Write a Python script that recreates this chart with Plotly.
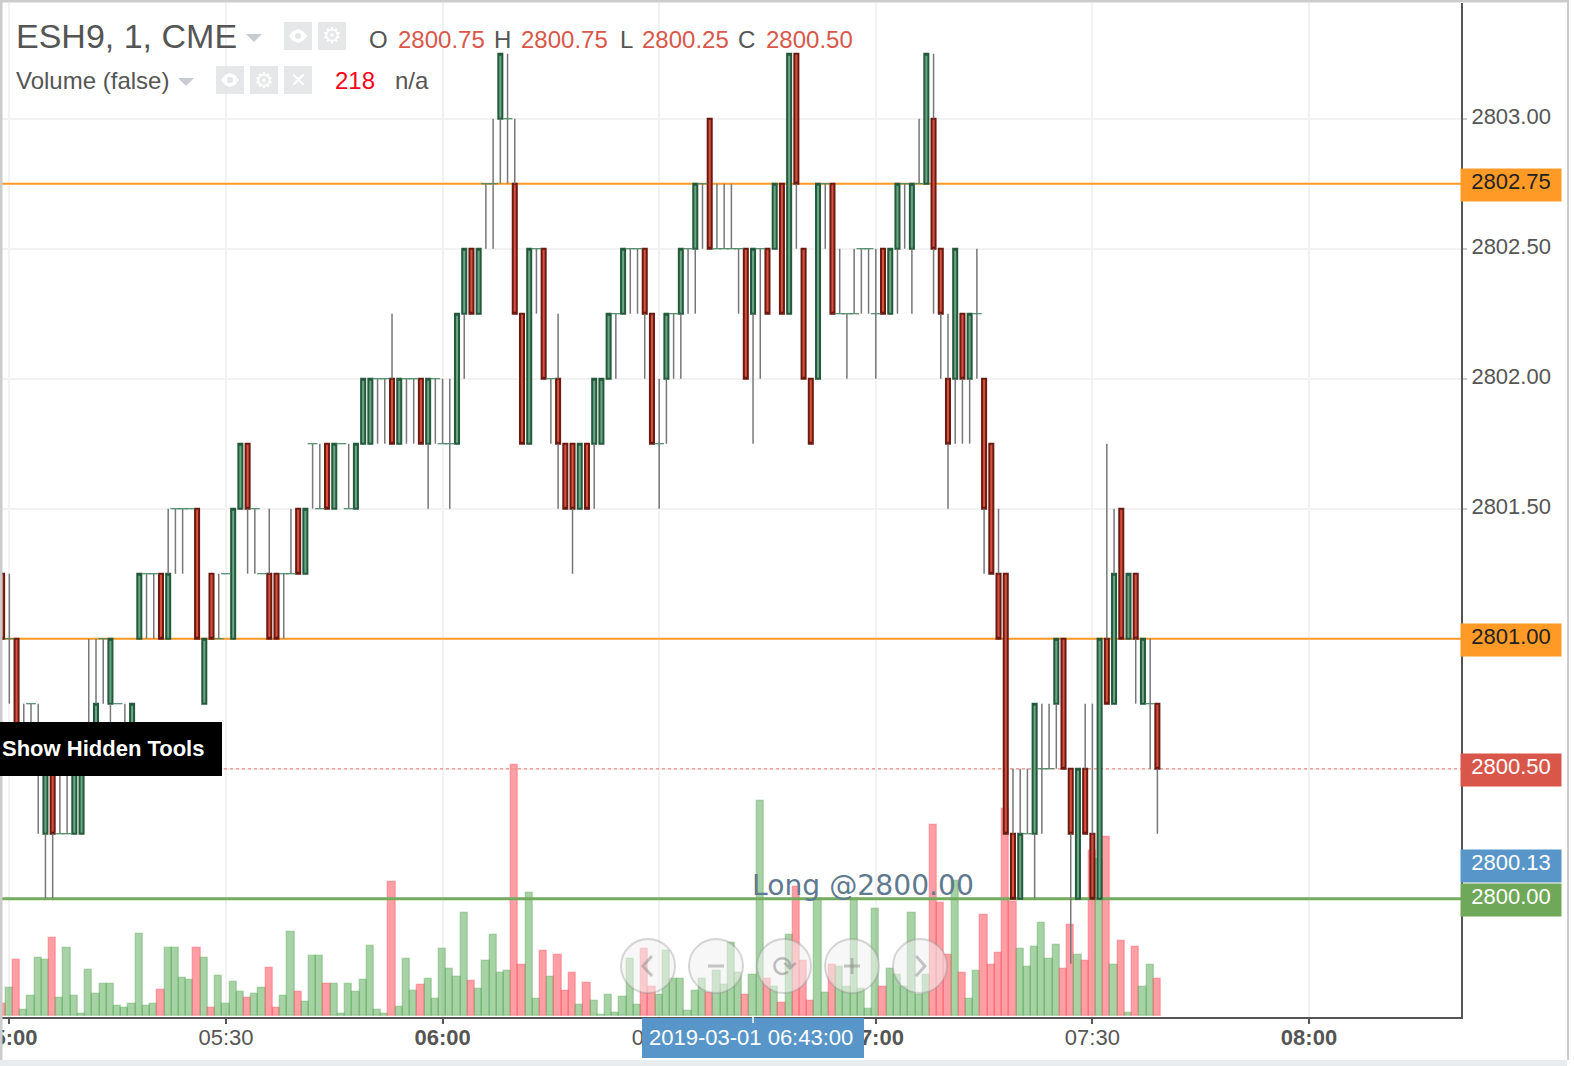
"""ESH9 one minute chart with volume underneath, drawn the way the trading terminal shows it."""

import pandas as pd
import plotly.graph_objects as go

WIDTH = 1574
HEIGHT = 1066

open_prices = [
    2801.25, 2801.00, 2801.00, 2800.50, 2800.75, 2800.50, 2800.25, 2800.50, 2800.25, 2800.25,
    2800.25, 2800.25, 2800.50, 2800.50, 2801.00, 2800.75, 2800.75, 2800.50, 2800.50, 2801.00,
    2801.25, 2801.25, 2801.25, 2801.00, 2801.50, 2801.50, 2801.50, 2801.50, 2800.75, 2801.25,
    2801.00, 2801.25, 2801.00, 2801.50, 2801.75, 2801.50, 2801.25, 2801.25, 2801.25, 2801.25,
    2801.25, 2801.50, 2801.25, 2801.75, 2801.50, 2801.75, 2801.50, 2801.75, 2801.50, 2801.50,
    2801.75, 2801.75, 2802.00, 2802.00, 2802.00, 2801.75, 2802.00, 2802.00, 2802.00, 2801.75,
    2802.00, 2801.75, 2801.75, 2801.75, 2802.25, 2802.50, 2802.25, 2802.75, 2802.75, 2803.00,
    2803.00, 2802.75, 2802.25, 2801.75, 2802.50, 2802.50, 2802.00, 2802.00, 2801.75, 2801.75,
    2801.50, 2801.75, 2801.75, 2801.75, 2802.00, 2802.25, 2802.25, 2802.50, 2802.50, 2802.50,
    2802.25, 2801.75, 2802.00, 2802.25, 2802.25, 2802.50, 2802.50, 2802.75, 2803.00, 2802.50,
    2802.50, 2802.50, 2802.50, 2802.50, 2802.25, 2802.50, 2802.50, 2802.50, 2802.75, 2802.25,
    2803.25, 2802.50, 2802.00, 2802.00, 2802.75, 2802.75, 2802.25, 2802.25, 2802.25, 2802.50,
    2802.50, 2802.25, 2802.50, 2802.25, 2802.50, 2802.75, 2802.50, 2802.75, 2802.75, 2803.00,
    2802.50, 2802.00, 2802.00, 2802.25, 2802.00, 2802.25, 2802.00, 2801.75, 2801.25, 2801.25,
    2800.25, 2800.00, 2800.25, 2800.25, 2800.50, 2800.50, 2800.75, 2801.00, 2800.50, 2800.00,
    2800.50, 2800.25, 2800.00, 2801.00, 2800.75, 2801.50, 2801.00, 2801.25, 2800.75, 2800.75, 2800.75,
]
high_prices = [
    2801.25, 2801.25, 2801.00, 2800.75, 2800.75, 2800.75, 2800.50, 2800.50, 2800.50, 2800.50,
    2800.50, 2800.50, 2801.00, 2801.00, 2801.00, 2801.00, 2800.75, 2800.75, 2800.75, 2801.25,
    2801.25, 2801.25, 2801.25, 2801.50, 2801.50, 2801.50, 2801.50, 2801.50, 2801.00, 2801.25,
    2801.25, 2801.25, 2801.50, 2801.75, 2801.75, 2801.50, 2801.25, 2801.50, 2801.25, 2801.25,
    2801.50, 2801.50, 2801.50, 2801.75, 2801.75, 2801.75, 2801.75, 2801.75, 2801.75, 2801.75,
    2802.00, 2802.00, 2802.00, 2802.00, 2802.25, 2802.00, 2802.00, 2802.00, 2802.00, 2802.00,
    2802.00, 2802.00, 2802.00, 2802.25, 2802.50, 2802.50, 2802.50, 2802.75, 2803.00, 2803.25,
    2803.25, 2803.00, 2802.25, 2802.50, 2802.50, 2802.50, 2802.00, 2802.25, 2801.75, 2801.75,
    2801.75, 2801.75, 2802.00, 2802.00, 2802.25, 2802.25, 2802.50, 2802.50, 2802.50, 2802.50,
    2802.25, 2802.00, 2802.25, 2802.25, 2802.50, 2802.50, 2802.75, 2802.75, 2803.00, 2802.75,
    2802.75, 2802.75, 2802.50, 2802.50, 2802.50, 2802.50, 2802.50, 2802.75, 2802.75, 2803.25,
    2803.25, 2802.50, 2802.00, 2802.75, 2802.75, 2802.75, 2802.50, 2802.25, 2802.50, 2802.50,
    2802.50, 2802.50, 2802.50, 2802.50, 2802.75, 2802.75, 2802.75, 2803.00, 2803.25, 2803.25,
    2802.50, 2802.25, 2802.50, 2802.25, 2802.25, 2802.50, 2802.00, 2801.75, 2801.50, 2801.25,
    2800.50, 2800.50, 2800.50, 2800.75, 2800.75, 2800.75, 2801.00, 2801.00, 2800.50, 2800.50,
    2800.75, 2800.75, 2801.00, 2801.75, 2801.50, 2801.50, 2801.25, 2801.25, 2801.00, 2801.00, 2800.75,
]
low_prices = [
    2801.00, 2800.75, 2800.50, 2800.50, 2800.50, 2800.25, 2800.00, 2800.00, 2800.25, 2800.25,
    2800.25, 2800.25, 2800.50, 2800.50, 2800.75, 2800.50, 2800.75, 2800.50, 2800.50, 2801.00,
    2801.00, 2801.00, 2801.00, 2801.00, 2801.25, 2801.25, 2801.50, 2801.00, 2800.75, 2801.00,
    2801.00, 2801.25, 2801.00, 2801.50, 2801.25, 2801.25, 2801.25, 2801.00, 2801.00, 2801.00,
    2801.25, 2801.25, 2801.25, 2801.50, 2801.50, 2801.50, 2801.50, 2801.75, 2801.50, 2801.50,
    2801.75, 2801.75, 2801.75, 2801.75, 2801.75, 2801.75, 2801.75, 2801.75, 2801.75, 2801.50,
    2801.75, 2801.75, 2801.50, 2801.75, 2802.00, 2802.25, 2802.25, 2802.50, 2802.50, 2802.75,
    2802.75, 2802.25, 2801.75, 2801.75, 2802.25, 2802.00, 2801.75, 2801.50, 2801.50, 2801.25,
    2801.50, 2801.50, 2801.50, 2801.75, 2802.00, 2802.00, 2802.25, 2802.25, 2802.25, 2802.00,
    2801.75, 2801.50, 2801.75, 2802.00, 2802.00, 2802.25, 2802.25, 2802.50, 2802.50, 2802.50,
    2802.50, 2802.50, 2802.25, 2802.00, 2801.75, 2802.00, 2802.25, 2802.50, 2802.25, 2802.25,
    2802.50, 2802.00, 2801.75, 2802.00, 2802.50, 2802.25, 2802.25, 2802.00, 2802.25, 2802.25,
    2802.25, 2802.00, 2802.25, 2802.25, 2802.25, 2802.50, 2802.25, 2802.75, 2802.75, 2802.25,
    2802.00, 2801.50, 2801.75, 2801.75, 2801.75, 2802.00, 2801.25, 2801.25, 2801.00, 2800.25,
    2800.00, 2800.00, 2800.25, 2800.00, 2800.25, 2800.50, 2800.50, 2800.50, 2799.75, 2800.00,
    2800.25, 2800.00, 2800.00, 2800.75, 2800.75, 2801.00, 2801.00, 2800.75, 2800.75, 2800.50, 2800.25,
]
close_prices = [
    2801.00, 2801.00, 2800.50, 2800.50, 2800.75, 2800.50, 2800.50, 2800.25, 2800.25, 2800.25,
    2800.50, 2800.50, 2800.50, 2800.75, 2801.00, 2801.00, 2800.75, 2800.50, 2800.75, 2801.25,
    2801.25, 2801.25, 2801.00, 2801.25, 2801.50, 2801.50, 2801.50, 2801.00, 2801.00, 2801.00,
    2801.00, 2801.25, 2801.50, 2801.75, 2801.50, 2801.50, 2801.25, 2801.00, 2801.00, 2801.25,
    2801.25, 2801.25, 2801.50, 2801.75, 2801.50, 2801.50, 2801.75, 2801.75, 2801.50, 2801.75,
    2802.00, 2802.00, 2802.00, 2802.00, 2801.75, 2802.00, 2802.00, 2802.00, 2801.75, 2802.00,
    2802.00, 2801.75, 2801.75, 2802.25, 2802.50, 2802.25, 2802.50, 2802.75, 2802.75, 2803.25,
    2803.00, 2802.25, 2801.75, 2802.50, 2802.50, 2802.00, 2802.00, 2801.75, 2801.50, 2801.50,
    2801.75, 2801.50, 2802.00, 2802.00, 2802.25, 2802.25, 2802.50, 2802.50, 2802.50, 2802.25,
    2801.75, 2801.75, 2802.25, 2802.25, 2802.50, 2802.50, 2802.75, 2802.75, 2802.50, 2802.50,
    2802.50, 2802.50, 2802.50, 2802.00, 2802.50, 2802.50, 2802.25, 2802.75, 2802.25, 2803.25,
    2802.75, 2802.00, 2801.75, 2802.75, 2802.75, 2802.25, 2802.25, 2802.25, 2802.25, 2802.50,
    2802.50, 2802.25, 2802.25, 2802.50, 2802.75, 2802.75, 2802.75, 2802.75, 2803.25, 2802.50,
    2802.25, 2801.75, 2802.50, 2802.00, 2802.25, 2802.25, 2801.50, 2801.25, 2801.00, 2800.25,
    2800.00, 2800.25, 2800.25, 2800.75, 2800.50, 2800.50, 2801.00, 2800.50, 2800.25, 2800.50,
    2800.25, 2800.00, 2801.00, 2800.75, 2801.25, 2801.00, 2801.25, 2801.00, 2801.00, 2800.75, 2800.50,
]
volumes = [
    68, 162, 325, 33, 115, 337, 325, 453, 103, 395,
    115, 10, 267, 126, 185, 185, 56, 45, 68, 477,
    56, 68, 150, 395, 395, 220, 208, 395, 337, 45,
    232, 68, 197, 138, 103, 126, 162, 278, 45, 115,
    488, 138, 80, 348, 348, 185, 185, 10, 185, 138,
    208, 407, 33, 10, 782, 54, 335, 148, 183, 218,
    101, 393, 276, 230, 603, 206, 160, 323, 475, 253,
    265, 1467, 300, 720, 101, 381, 230, 358, 148, 253,
    66, 195, 90, 8, 125, 19, 113, 335, 66, 393,
    171, 125, 381, 218, 218, 31, 148, 218, 136, 265,
    183, 428, 253, 125, 241, 1257, 218, 171, 78, 475,
    755, 323, 90, 685, 136, 300, 288, 171, 685, 160,
    43, 627, 171, 276, 241, 171, 603, 125, 241, 1117,
    662, 358, 790, 253, 101, 265, 592, 300, 370, 1212,
    667, 393, 288, 405, 545, 335, 416, 276, 533, 358,
    323, 963, 920, 1047, 300, 440, 19, 405, 171, 300, 218,
]

first_bar = "2019-03-01 04:59:00"
x_start = "2019-03-01 04:58:59"
x_end = "2019-03-01 08:21:03"
tick_times = ["2019-03-01 05:00", "2019-03-01 05:30", "2019-03-01 06:00", "2019-03-01 06:30",
              "2019-03-01 07:00", "2019-03-01 07:30", "2019-03-01 08:00"]
tick_labels = ["<b>05:00</b>", "05:30", "<b>06:00</b>", "06:30", "<b>07:00</b>", "07:30", "<b>08:00</b>"]
price_ticks = [2800.0, 2800.5, 2801.0, 2801.5, 2802.0, 2802.5, 2803.0]
# the three lowest sit under coloured price tags, so only their gridlines show
price_tick_labels = ["", "", "", "2801.50", "2802.00", "2802.50", "2803.00"]
price_range = [2799.545, 2803.445]

GREEN_EDGE = "#245a3c"
GREEN_BODY = "#6ba585"
RED_EDGE = "#6b1a12"
RED_BODY = "#d8513f"
WICK = "#777777"
TEXT = "#555555"
SANS = "Liberation Sans"
GRID = "#f2f2f2"

times = pd.date_range(first_bar, periods=len(open_prices), freq="min")


def px_x(x):
    return x / WIDTH


def px_y(y):
    return 1 - y / HEIGHT


def rect(x0, y0, x1, y1, color, **kwargs):
    return dict(type="rect", xref="paper", yref="paper", x0=px_x(x0), x1=px_x(x1),
                y0=px_y(y1), y1=px_y(y0), fillcolor=color, line_width=0, **kwargs)


def poly(points, color=None, line=None, width=0, closed=True):
    path = "M " + " L ".join(f"{px_x(x):.5f},{px_y(y):.5f}" for x, y in points)
    if closed:
        path += " Z"
    return dict(type="path", xref="paper", yref="paper", path=path,
                fillcolor=color if color else "rgba(0,0,0,0)",
                line=dict(color=line if line else "rgba(0,0,0,0)", width=width))


def circle(cx, cy, r, fill, line, width):
    return dict(type="circle", xref="paper", yref="paper", x0=px_x(cx - r), x1=px_x(cx + r),
                y0=px_y(cy + r), y1=px_y(cy - r), fillcolor=fill, line=dict(color=line, width=width))


def label(x, y, text, size, color=TEXT, anchor="left", family=SANS):
    return dict(xref="paper", yref="paper", x=px_x(x), y=px_y(y), text=text, showarrow=False,
                xanchor=anchor, yanchor="middle", borderpad=0,
                font=dict(family=family, size=size, color=color))


def price_tag(price, text, fill, color):
    return dict(xref="paper", yref="y2", x=px_x(1460), y=price, text=text, showarrow=False,
                xanchor="left", yanchor="middle", width=100, height=32, align="center", valign="top",
                yshift=-1, bgcolor=fill, borderpad=0, font=dict(family=SANS, size=22, color=color))


def price_line(price, color, width, dash="solid"):
    return go.Scatter(x=[x_start, x_end], y=[price, price], mode="lines", yaxis="y2", showlegend=False,
                      hoverinfo="skip", line=dict(color=color, width=width, dash=dash))


fig = go.Figure()

vol_colors = ["rgba(255,64,76,0.5)" if c < o else "rgba(80,165,75,0.5)"
              for o, c in zip(open_prices, close_prices)]
vol_edges = ["rgba(255,64,76,0.3)" if c < o else "rgba(70,160,70,0.3)"
             for o, c in zip(open_prices, close_prices)]
fig.add_trace(go.Bar(x=times, y=volumes, width=60000,
                     marker=dict(color=vol_colors, line=dict(color=vol_edges, width=1.5)),
                     yaxis="y", showlegend=False, hoverinfo="skip"))

# levels live on y2 and candles on y3, so the stacking is bars, levels, candles
fig.add_trace(price_line(2802.75, "#ff9a26", 2))
fig.add_trace(price_line(2801.0, "#ff9a26", 2))
fig.add_trace(price_line(2800.5, "#e9a09a", 1.5, "dot"))
fig.add_trace(price_line(2800.0, "#74ab5e", 3))

# wicks go round the body, not through it, since scatter draws over the candles
wick_x, wick_y = [], []
for t, o, h, l, c in zip(times, open_prices, high_prices, low_prices, close_prices):
    if h > max(o, c):
        wick_x += [t, t, None]
        wick_y += [h, max(o, c), None]
    if l < min(o, c):
        wick_x += [t, t, None]
        wick_y += [min(o, c), l, None]
fig.add_trace(go.Scatter(x=wick_x, y=wick_y, mode="lines", yaxis="y3", showlegend=False, hoverinfo="skip",
                         line=dict(color=WICK, width=1.5)))

bodies = [i for i in range(len(times)) if open_prices[i] != close_prices[i]]
fig.add_trace(go.Candlestick(
    x=[times[i] for i in bodies],
    open=[open_prices[i] for i in bodies],
    close=[close_prices[i] for i in bodies],
    high=[max(open_prices[i], close_prices[i]) for i in bodies],
    low=[min(open_prices[i], close_prices[i]) for i in bodies],
    yaxis="y3", showlegend=False, hoverinfo="skip", whiskerwidth=0,
    increasing=dict(fillcolor=GREEN_BODY, line=dict(color=GREEN_EDGE, width=2)),
    decreasing=dict(fillcolor=RED_BODY, line=dict(color=RED_EDGE, width=2)),
))

flat = [i for i in range(len(times)) if open_prices[i] == close_prices[i]]
fig.add_trace(go.Scatter(x=[times[i] for i in flat], y=[close_prices[i] for i in flat], mode="markers",
                         yaxis="y3", showlegend=False, hoverinfo="skip",
                         marker=dict(symbol="line-ew", size=7, color=GREEN_EDGE,
                                     line=dict(color="#4d8a68", width=1.2))))

shapes = [
    # page edges
    rect(0, 0, 2.5, HEIGHT, "#cccccc"),
    rect(0, 0, 1569, 2.5, "#cccccc"),
    rect(1567, 0, 1569, 1060, "#cccccc"),
    rect(0, 1060, 1567, HEIGHT, "#e8ecef"),
    # toolbar squares
    rect(284, 22, 312, 50, "rgba(225,227,228,0.85)"),
    rect(318, 22, 346, 50, "rgba(225,227,228,0.85)"),
    rect(216, 66, 244, 94, "rgba(225,227,228,0.85)"),
    rect(250, 66, 278, 94, "rgba(225,227,228,0.85)"),
    rect(284, 66, 312, 94, "rgba(225,227,228,0.85)"),
    poly([(246, 34), (262, 34), (254, 42)], "#c8ccd0"),
    poly([(178, 78), (194, 78), (186, 86)], "#c8ccd0"),
    poly([(289, 36), (293, 31), (298, 29), (303, 31), (307, 36), (303, 41), (298, 43), (293, 41)], "white"),
    poly([(221, 80), (225, 75), (230, 73), (235, 75), (239, 80), (235, 85), (230, 87), (225, 85)], "white"),
    circle(298, 36, 3, "#e3e5e6", "#e3e5e6", 0),
    circle(230, 80, 3, "#e3e5e6", "#e3e5e6", 0),
    # hidden tools button and crosshair date
    rect(0, 722, 222, 776, "black"),
    rect(642, 1018, 864, 1058, "#5896c9"),
    rect(752, 1017, 754, 1023, "#cfe0ef"),
    # navigation buttons
    circle(648, 966, 27, "rgba(240,240,240,0.55)", "rgba(140,140,140,0.35)", 2),
    circle(716, 966, 27, "rgba(240,240,240,0.55)", "rgba(140,140,140,0.35)", 2),
    circle(784, 966, 27, "rgba(240,240,240,0.55)", "rgba(140,140,140,0.35)", 2),
    circle(852, 966, 27, "rgba(240,240,240,0.55)", "rgba(140,140,140,0.35)", 2),
    circle(920, 966, 27, "rgba(240,240,240,0.55)", "rgba(140,140,140,0.35)", 2),
    poly([(652, 956), (643, 966), (652, 976)], line="rgba(130,130,130,0.45)", width=3, closed=False),
    poly([(916, 956), (925, 966), (916, 976)], line="rgba(130,130,130,0.45)", width=3, closed=False),
    poly([(708, 966), (724, 966)], line="rgba(130,130,130,0.45)", width=3, closed=False),
    poly([(844, 966), (860, 966)], line="rgba(130,130,130,0.45)", width=3, closed=False),
    poly([(852, 958), (852, 974)], line="rgba(130,130,130,0.45)", width=3, closed=False),
]

annotations = [
    label(15, 36, "ESH9, 1, CME", 34),
    label(368, 40, "O", 24),
    label(397, 40, "2800.75", 24, "#d9574a"),
    label(493, 40, "H", 24),
    label(520, 40, "2800.75", 24, "#d9574a"),
    label(619, 40, "L", 24),
    label(641, 40, "2800.25", 24, "#d9574a"),
    label(737, 40, "C", 24),
    label(765, 40, "2800.50", 24, "#d9574a"),
    label(15, 80, "Volume (false)", 24),
    label(334, 80, "218", 24, "#ff0018"),
    label(394, 80, "n/a", 24),
    label(332, 36, "⚙", 22, "white", "center", "DejaVu Sans"),
    label(264, 80, "⚙", 22, "white", "center", "DejaVu Sans"),
    label(298, 80, "✕", 20, "white", "center", "DejaVu Sans"),
    label(1, 748, "<b>Show Hidden Tools</b>", 22, "white"),
    label(751, 1037, "2019-03-01 06:43:00", 22, "white", "center"),
    label(751, 885, "Long @2800.00", 28.2, "#5f7a90", family="DejaVu Sans"),
    label(784, 966, "⟳", 30, "rgba(130,130,130,0.5)", "center", "DejaVu Sans"),
    price_tag(2802.75, "2802.75", "#ff9a26", "#222222"),
    price_tag(2801.0, "2801.00", "#ff9a26", "#222222"),
    price_tag(2800.5, "2800.50", "#d9574a", "white"),
    price_tag(2800.13, "2800.13", "#5896c9", "white"),
    price_tag(2800.0, "2800.00", "#6fa858", "white"),
]

fig.update_layout(
    width=WIDTH,
    height=HEIGHT,
    margin=dict(l=0, r=0, t=0, b=0),
    paper_bgcolor="white",
    plot_bgcolor="white",
    bargap=0,
    boxgap=0.2,
    showlegend=False,
    shapes=shapes,
    annotations=annotations,
    font=dict(family=SANS, size=22, color=TEXT),
    xaxis=dict(
        type="date",
        domain=[px_x(2), px_x(1461)],
        range=[x_start, x_end],
        rangeslider=dict(visible=False),
        automargin=False,
        tickmode="array",
        tickvals=tick_times,
        ticktext=tick_labels,
        ticks="outside",
        ticklen=5,
        tickwidth=2,
        tickcolor=TEXT,
        tickangle=0,
        ticklabelstandoff=-5,
        ticklabeloverflow="allow",
        showgrid=True,
        gridcolor=GRID,
        gridwidth=2,
        zeroline=False,
        showline=True,
        linecolor=TEXT,
        linewidth=2,
        tickfont=dict(family=SANS, size=22, color=TEXT),
    ),
    yaxis=dict(
        domain=[px_y(1017), px_y(3)],
        range=[-6, 5920],
        automargin=False,
        showticklabels=False,
        showgrid=False,
        zeroline=False,
        ticks="",
    ),
    yaxis2=dict(
        overlaying="y",
        side="right",
        range=price_range,
        automargin=False,
        tickmode="array",
        tickvals=price_ticks,
        ticktext=price_tick_labels,
        ticks="outside",
        ticklen=4,
        tickwidth=2,
        tickcolor="#cccccc",
        ticklabelshift=-2,
        showgrid=True,
        gridcolor=GRID,
        gridwidth=2,
        zeroline=False,
        showline=True,
        linecolor=TEXT,
        linewidth=2,
        tickfont=dict(family=SANS, size=22, color=TEXT),
    ),
    yaxis3=dict(
        overlaying="y",
        side="right",
        range=price_range,
        automargin=False,
        showticklabels=False,
        showgrid=False,
        zeroline=False,
        ticks="",
    ),
)

fig.write_html("out.html", config={"displayModeBar": False},
               post_script="document.body.style.margin = '0';")
